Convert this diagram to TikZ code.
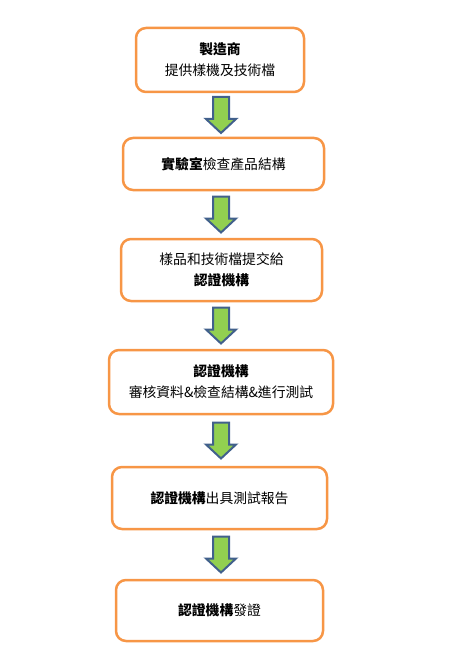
\documentclass[tikz,border=0pt]{standalone}
\usepackage{fontspec}
\newfontfamily\cjk{Noto Sans CJK TC}
\usetikzlibrary{calc}
\definecolor{boxorange}{HTML}{F79646}
\definecolor{arrgreen}{HTML}{92D050}
\definecolor{arrblue}{HTML}{41608C}
\tikzset{
  stepbox/.style={draw=boxorange, line width=2.5pt, rounded corners=10pt, fill=white,
    align=center, inner sep=0pt, font=\cjk\fontsize{13.8}{21}\selectfont},
  downarr/.pic={\draw[draw=arrblue, fill=arrgreen, line width=2pt, line join=miter]
    (-8,0) -- (8,0) -- (8,22) -- (15,22) -- (0,36) -- (-15,22) -- (-8,22) -- cycle;}
}
\begin{document}
\begin{tikzpicture}[x={(1pt,0)}, y={(0,-1pt)}]
\useasboundingbox (0,0) rectangle (469,671);
\node[stepbox, minimum width=168pt, minimum height=64pt] (b1) at (220,60) {\textbf{製造商}\\提供樣機及技術檔};
\node[stepbox, minimum width=201pt, minimum height=52pt] (b2) at (223.5,164) {\textbf{實驗室}檢查產品結構};
\node[stepbox, minimum width=201pt, minimum height=62pt] (b3) at (221.5,270) {樣品和技術檔提交給\\\textbf{認證機構}};
\node[stepbox, minimum width=224pt, minimum height=64pt] (b4) at (221,382) {\textbf{認證機構}\\審核資料\&檢查結構\&進行測試};
\node[stepbox, minimum width=215pt, minimum height=62pt] (b5) at (219.5,498) {\textbf{認證機構}出具測試報告};
\node[stepbox, minimum width=207pt, minimum height=61pt] (b6) at (219.5,610.5) {\textbf{認證機構}發證};
\foreach \a/\b in {b1/b2,b2/b3,b3/b4,b4/b5,b5/b6}{
  \path let \p1=(\a.south), \p2=(\b.north) in (221pt,{(\y1+\y2)/2+18pt}) pic{downarr};
}
\end{tikzpicture}
\end{document}
